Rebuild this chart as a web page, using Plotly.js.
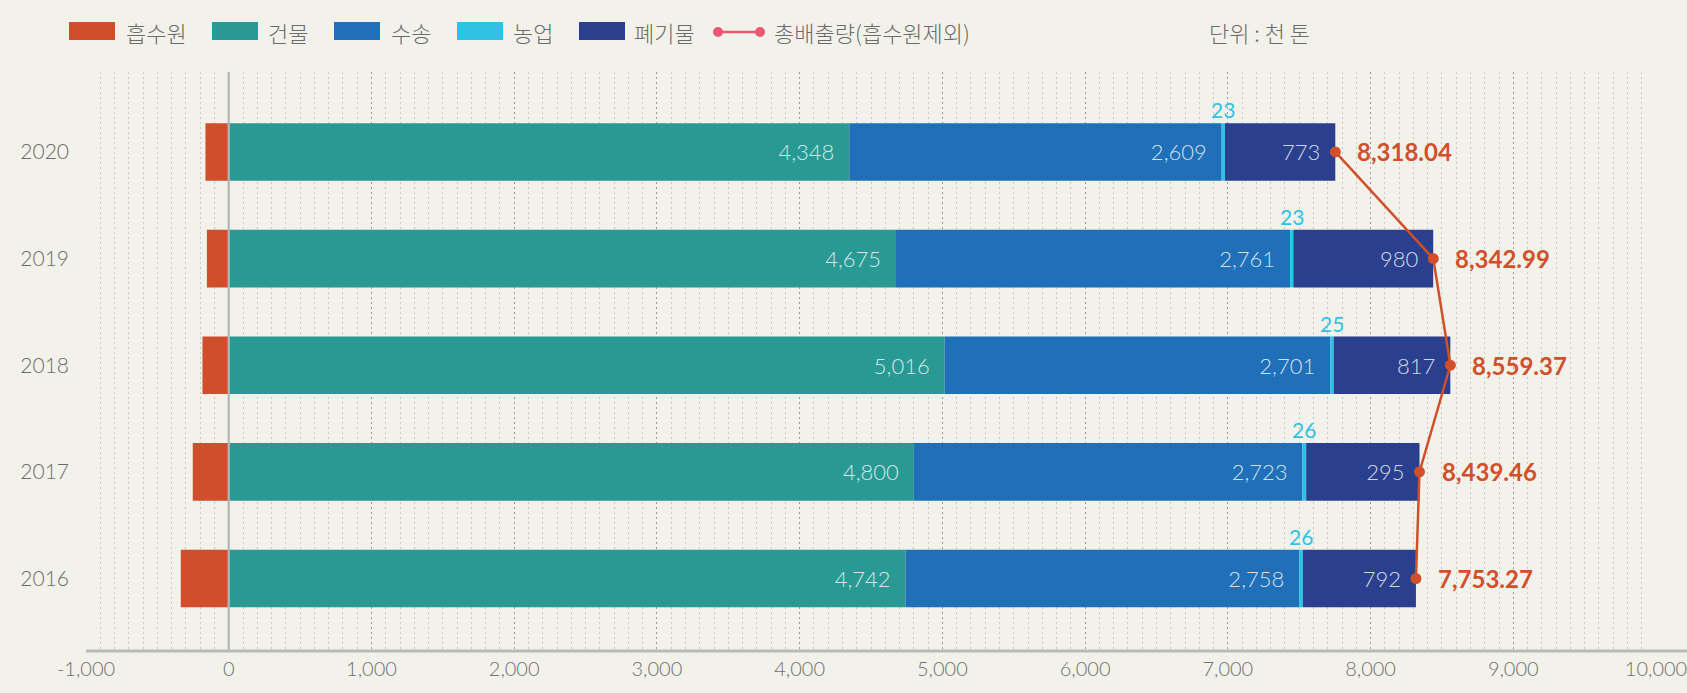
<!DOCTYPE html>
<html><head><meta charset="utf-8">
<script src="https://cdn.plot.ly/plotly-3.0.1.min.js"></script>
<style>html,body{margin:0;padding:0;background:#F3F2EA;}</style>
</head><body><div id="chart" style="width:1687px;height:693px;"></div>
<script>
// ---- data ----
const years = ['2016', '2017', '2018', '2019', '2020'];
const sink = [-336, -252, -184, -153, -163];
const building = [4742, 4800, 5016, 4675, 4348];
const transport = [2758, 2723, 2701, 2761, 2609];
const agriculture = [26, 26, 25, 23, 23];
const waste = [792, 794, 817, 980, 773];
const buildingLabels = ['4,742', '4,800', '5,016', '4,675', '4,348'];
const transportLabels = ['2,758', '2,723', '2,701', '2,761', '2,609'];
const agricultureLabels = ['26', '26', '25', '23', '23'];
const wasteLabels = ['792', '295', '817', '980', '773'];
const totals = [8318.04, 8342.99, 8559.37, 8439.46, 7753.27];
const totalLabels = ['7,753.27', '8,439.46', '8,559.37', '8,342.99', '8,318.04'];
const seriesNames = ['흡수원', '건물', '수송', '농업', '폐기물'];
const lineName = '총배출량(흡수원제외)';
const unitText = '단위 : 천 톤';
const xTickVals = [-1000, 0, 1000, 2000, 3000, 4000, 5000, 6000, 7000, 8000, 9000, 10000];
const xTickText = ['-1,000', '0', '1,000', '2,000', '3,000', '4,000', '5,000', '6,000', '7,000', '8,000', '9,000', '10,000'];

// ---- style ----
const FONT = "Lato, 'Noto Sans CJK KR', sans-serif";
const KFONT = "'Noto Sans CJK KR', Lato, sans-serif";
const colors = ['#D04E2B', '#289A93', '#1F70B8', '#2EC3E6', '#2A3F8D'];
const lineColor = '#D24F2A';
const legendLineColor = '#EC5874';
const textGray = '#6b6b6b';
const BG = '#F3F2EA';

const W = 1687, H = 693;
const M = {l: 86, r: 31, t: 72, b: 42};
const PW = W - M.l - M.r, PH = H - M.t - M.b;
const px = x => (x - M.l) / PW;
const py = y => (M.t + PH - y) / PH;

const pad = s => s + '\u00a0\u00a0';
const inFont = {family: FONT, size: 22, color: 'rgba(255,255,255,0.80)', weight: 300};

function barTrace(i, vals, labels) {
  const t = {
    type: 'bar', orientation: 'h', name: seriesNames[i],
    x: vals, y: years, width: 0.54,
    marker: {color: colors[i], line: {width: 0}},
    hoverinfo: 'skip', showlegend: false
  };
  if (labels) {
    t.text = labels.map(pad);
    t.textposition = 'inside';
    t.insidetextanchor = 'end';
    t.textangle = 0;
    t.insidetextfont = inFont;
    t.constraintext = 'none';
  } else {
    t.textposition = 'none';
  }
  return t;
}

const traces = [
  barTrace(0, sink, null),
  barTrace(1, building, buildingLabels),
  barTrace(2, transport, transportLabels),
  barTrace(3, agriculture, null),
  barTrace(4, waste, wasteLabels),
  {
    type: 'scatter', mode: 'lines+markers', name: lineName,
    x: totals, y: years,
    line: {color: lineColor, width: 2.5},
    marker: {color: lineColor, size: 11},
    hoverinfo: 'skip', showlegend: false
  }
];

const annotations = [];
years.forEach((yr, i) => {
  annotations.push({
    x: building[i] + transport[i] + agriculture[i] / 2, y: i, xref: 'x', yref: 'y',
    text: agricultureLabels[i], showarrow: false, yshift: 42, xanchor: 'center', yanchor: 'middle',
    font: {family: FONT, size: 21, color: colors[3], weight: 'normal'}
  });
  annotations.push({
    x: totals[i], y: i, xref: 'x', yref: 'y',
    text: totalLabels[i], showarrow: false, xshift: 20, xanchor: 'left', yanchor: 'middle',
    font: {family: FONT, size: 24, color: lineColor, weight: 'bold'}
  });
});

// custom legend
const shapes = [];
const swatchX = [69, 212, 334, 457, 579];
const textX = [124, 266, 389, 511, 632];
seriesNames.forEach((n, i) => {
  shapes.push({type: 'rect', xref: 'paper', yref: 'paper',
    x0: px(swatchX[i]), x1: px(swatchX[i] + 46), y0: py(40), y1: py(22),
    fillcolor: colors[i], line: {width: 0}});
  annotations.push({xref: 'paper', yref: 'paper', x: px(textX[i]), y: py(32),
    text: n, showarrow: false, xanchor: 'left', yanchor: 'middle',
    font: {family: KFONT, size: 22, color: textGray, weight: 300}});
});
shapes.push({type: 'line', xref: 'paper', yref: 'paper', x0: px(718), x1: px(760), y0: py(32), y1: py(32),
  line: {color: legendLineColor, width: 2.5}});
[718, 760].forEach(cx => shapes.push({type: 'circle', xref: 'paper', yref: 'paper',
  x0: px(cx - 5), x1: px(cx + 5), y0: py(37), y1: py(27), fillcolor: legendLineColor, line: {width: 0}}));
annotations.push({xref: 'paper', yref: 'paper', x: px(772), y: py(32), text: lineName, showarrow: false,
  xanchor: 'left', yanchor: 'middle', font: {family: KFONT, size: 22, color: textGray, weight: 300}});
annotations.push({xref: 'paper', yref: 'paper', x: px(1207), y: py(32), text: unitText, showarrow: false,
  xanchor: 'left', yanchor: 'middle', font: {family: KFONT, size: 22, color: textGray, weight: 300}});

// zero line over bars and extended x axis line
shapes.push({type: 'line', xref: 'x', yref: 'paper', x0: 0, x1: 0, y0: 0, y1: 1, layer: 'above',
  line: {color: 'rgba(180,182,184,0.9)', width: 2.5}});
shapes.push({type: 'line', xref: 'paper', yref: 'paper', x0: 0, x1: px(W + 5), y0: 0, y1: 0, layer: 'above',
  line: {color: '#b9b9b9', width: 3}});

const layout = {
  width: W, height: H,
  margin: M,
  paper_bgcolor: BG, plot_bgcolor: BG,
  barmode: 'relative', bargap: 0.46,
  showlegend: false,
  font: {family: FONT, color: textGray},
  xaxis: {
    range: [-1000, 10000], tickvals: xTickVals, ticktext: xTickText,
    showgrid: true, gridcolor: '#9a9a9a', griddash: '2px,3px', gridwidth: 1,
    minor: {dtick: 100, showgrid: true, gridcolor: '#c8c8c2', griddash: '2px,3px', gridwidth: 1},
    zeroline: false, showline: false, ticks: '',
    ticklabelstandoff: 4, ticklabeloverflow: 'allow',
    tickfont: {family: FONT, size: 20, color: '#707070', weight: 300}
  },
  yaxis: {
    type: 'category', range: [-0.68, 4.75], categoryorder: 'array', categoryarray: years,
    showgrid: false, zeroline: false, showline: false, ticks: '',
    ticklabelstandoff: 16,
    tickfont: {family: FONT, size: 21, color: '#6b6b6b', weight: 300}
  },
  shapes: shapes,
  annotations: annotations
};

Plotly.newPlot('chart', traces, layout, {displayModeBar: false, staticPlot: true});
</script>
</body></html>
